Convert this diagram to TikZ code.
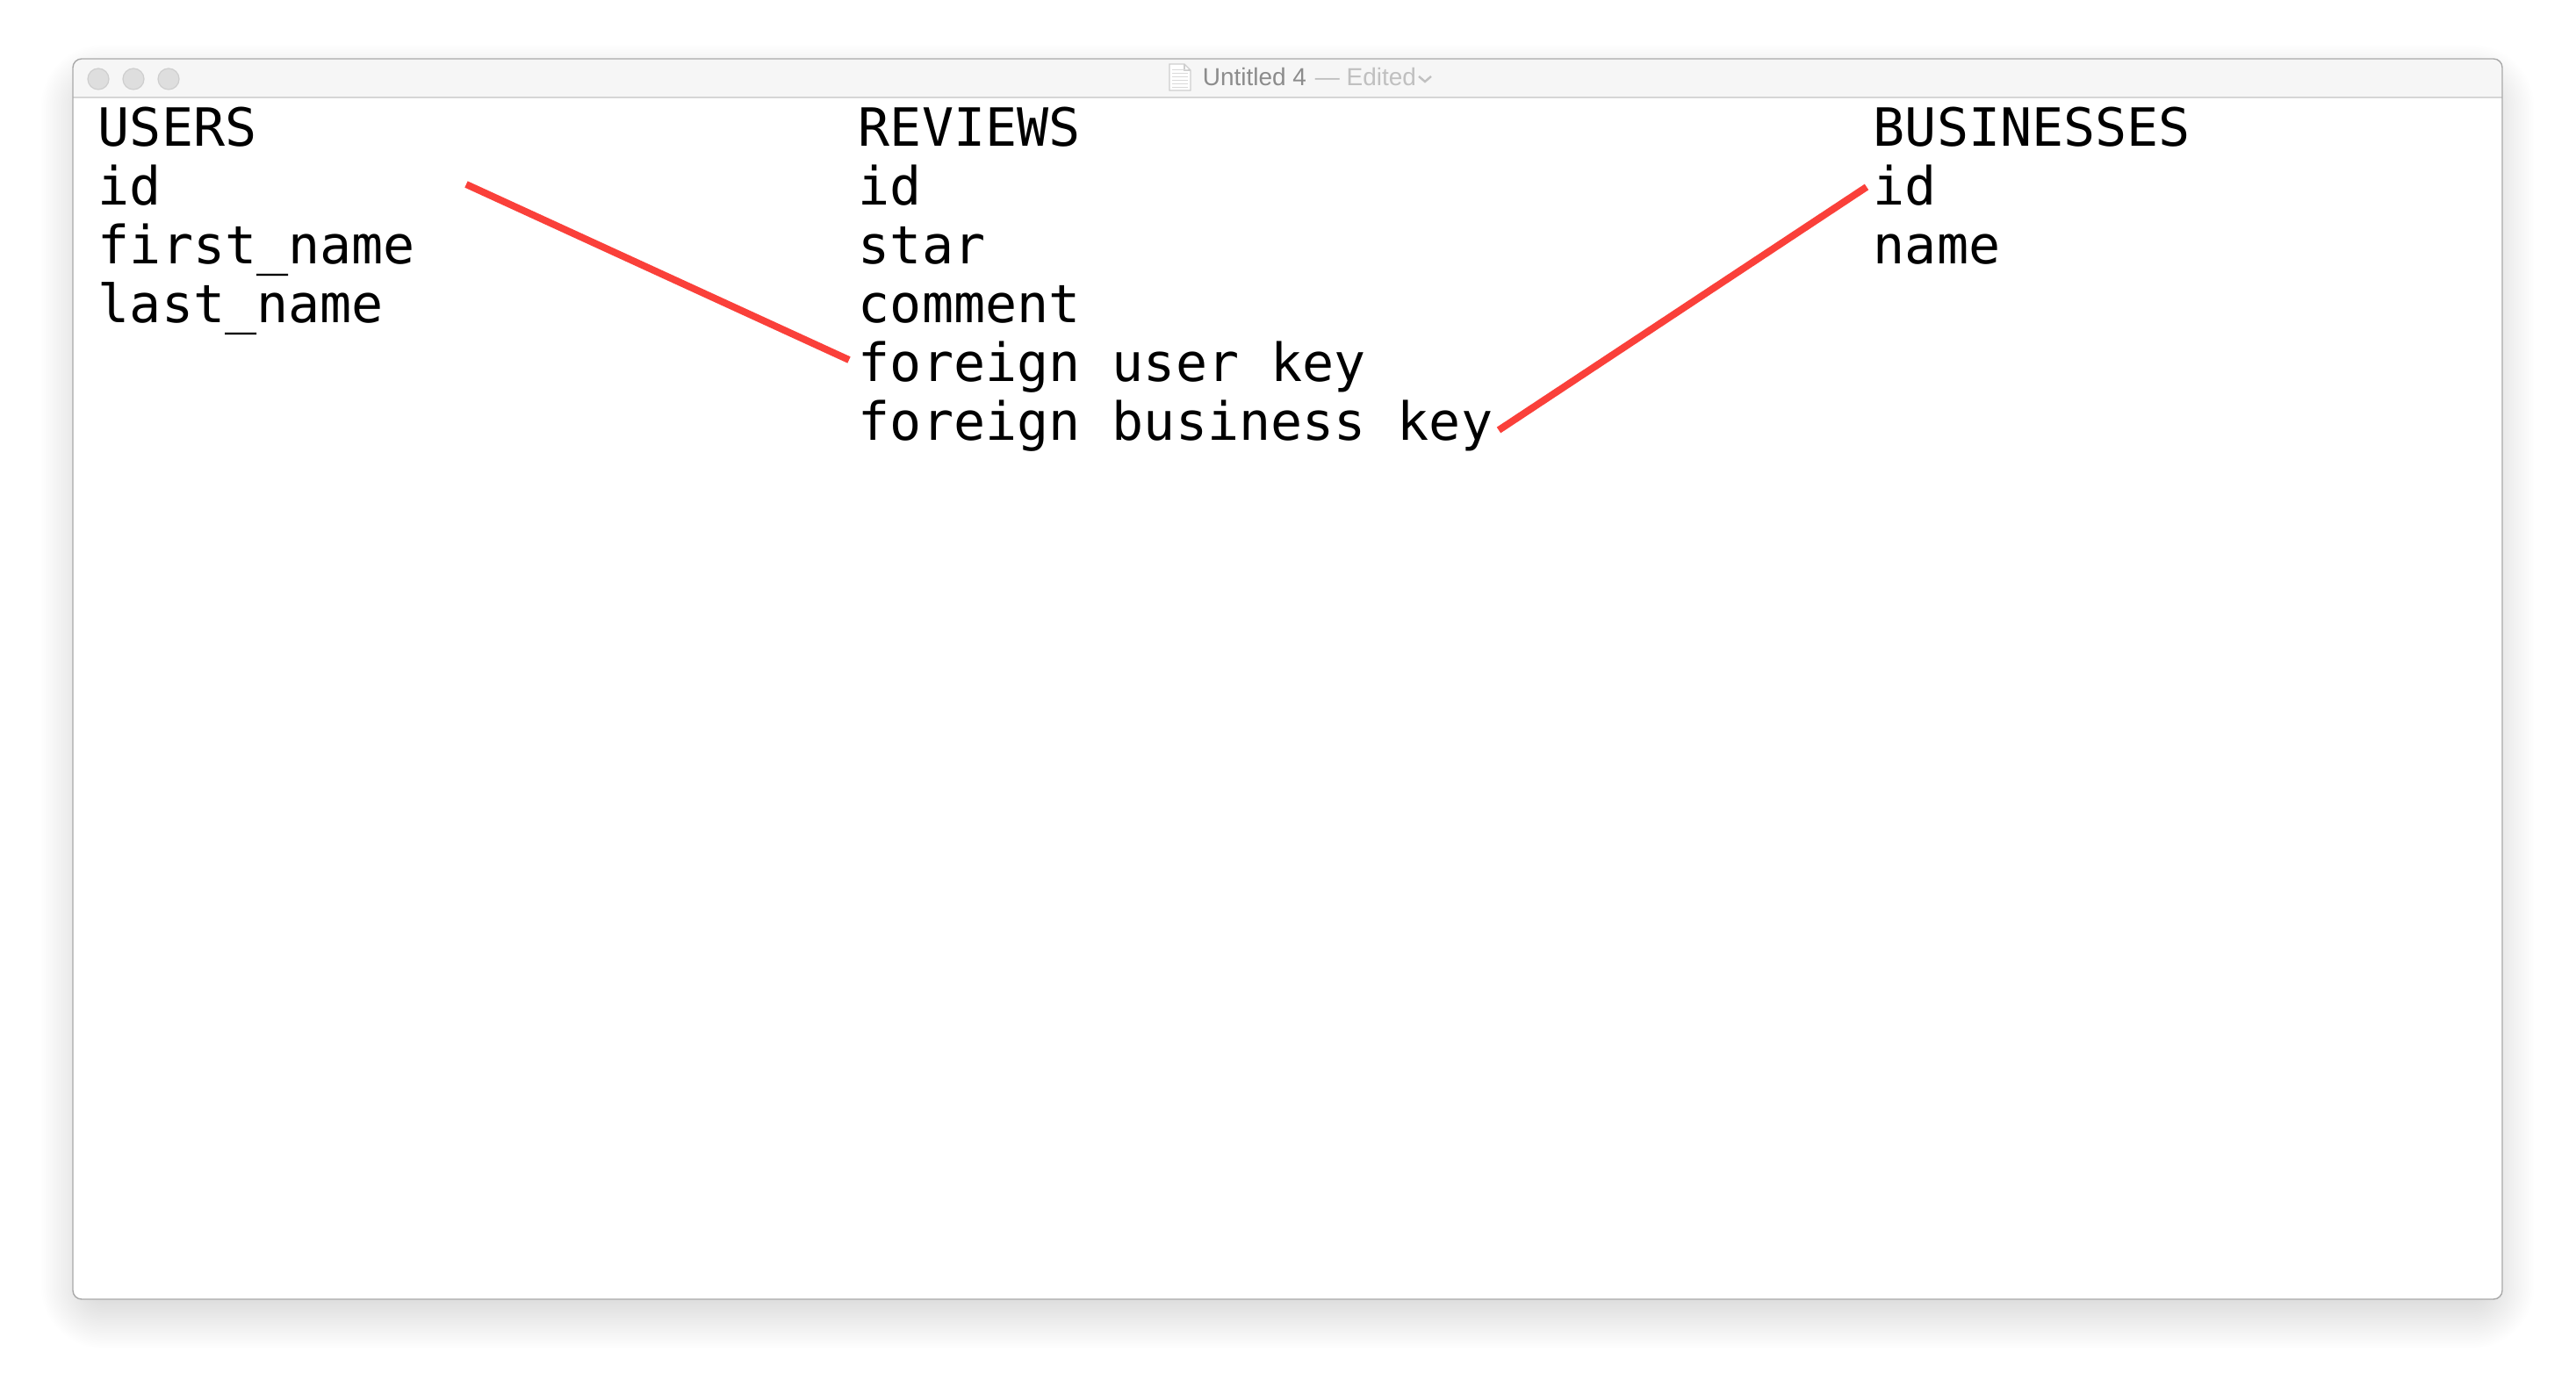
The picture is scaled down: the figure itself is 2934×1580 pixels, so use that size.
\documentclass[tikz,border=0pt]{standalone}
\usepackage{fontspec}
\newfontfamily\codefont{DejaVu Sans Mono}
\newfontfamily\uifont{Liberation Sans}
\definecolor{linkred}{RGB}{250,64,58}
\definecolor{titlebg}{RGB}{246,246,246}
\definecolor{titleline}{RGB}{214,214,214}
\definecolor{winborder}{RGB}{168,168,168}
\definecolor{btnfill}{RGB}{222,222,222}
\definecolor{btnline}{RGB}{206,206,206}
\definecolor{titlegray}{RGB}{140,140,140}
\definecolor{editgray}{RGB}{192,192,192}
\begin{document}
\begin{tikzpicture}[x=0.25pt,y=-0.25pt,
  code/.style={anchor=base west, inner sep=0pt, font=\codefont\fontsize{15pt}{17pt}\selectfont},
  uitext/.style={anchor=base west, inner sep=0pt, font=\uifont\fontsize{7pt}{8pt}\selectfont},
  link/.style={draw=linkred, line width=2pt, line cap=butt},
  winbtn/.style={circle, fill=btnfill, draw=btnline, line width=0.3pt, minimum size=6pt, inner sep=0pt}]
\useasboundingbox (0,0) rectangle (2934,1580);
% soft window shadow
\foreach \i in {1,...,60} {
  \pgfmathsetmacro\rr{max(0.5,(1.7*\i)*0.25)}
  \pgfmathsetmacro\op{0.0045*(1-\i/75)}
  \fill[black, fill opacity=\op, rounded corners=\rr pt]
    (118-1.7*\i, 122-1.7*\i) rectangle (2815+1.7*\i, 1465+1.7*\i);
}
% window body
\fill[white, rounded corners=2.5pt] (83,67) rectangle (2850,1480);
\begin{scope}
  \clip[rounded corners=2.5pt] (83,67) rectangle (2850,1480);
  \fill[titlebg] (83,67) rectangle (2850,111);
\end{scope}
\draw[titleline, line width=0.35pt] (83,111) -- (2850,111);
\draw[winborder, line width=0.35pt, rounded corners=2.5pt] (83,67) rectangle (2850,1480);
% traffic lights
\node[winbtn] (close) at (112,90) {};
\node[winbtn] (mini) at (152,90) {};
\node[winbtn] (zoombtn) at (192,90) {};
% title
\draw[btnline, fill=white, line width=0.3pt] (1332,73) -- (1349,73) -- (1356,80) -- (1356,103) -- (1332,103) -- cycle;
\draw[btnline, line width=0.3pt] (1349,73) -- (1349,80) -- (1356,80);
\foreach \yy in {79,83,...,99} { \draw[editgray!60, line width=0.2pt] (1335,\yy) -- (1353,\yy); }
\node[uitext, text=titlegray] (title) at (1369,98) {Untitled 4};
\node[uitext, text=editgray] (edited) at (1497,98) {— Edited};
\draw[editgray, line width=0.6pt] (1616,87) -- (1623,93) -- (1630,87);
% USERS
\node[code] (users) at (111,167) {USERS};
\node[code] (uid) at (111,234) {id};
\node[code] (ufirst) at (111,301) {first\_name};
\node[code] (ulast) at (111,368) {last\_name};
% REVIEWS
\node[code] (reviews) at (977,167) {REVIEWS};
\node[code] (rid) at (977,234) {id};
\node[code] (rstar) at (977,301) {star};
\node[code] (rcomment) at (977,368) {comment};
\node[code] (ruser) at (977,435) {foreign user key};
\node[code] (rbusiness) at (977,502) {foreign business key};
% BUSINESSES
\node[code] (businesses) at (2133,167) {BUSINESSES};
\node[code] (bid) at (2133,234) {id};
\node[code] (bname) at (2133,301) {name};
% links
\coordinate (uidend) at (531,210);
\coordinate (ruserend) at (967,410);
\coordinate (rbusend) at (1707,490);
\coordinate (bidend) at (2126,213);
\draw[link] (uidend) -- (ruserend);
\draw[link] (rbusend) -- (bidend);
\end{tikzpicture}
\end{document}
